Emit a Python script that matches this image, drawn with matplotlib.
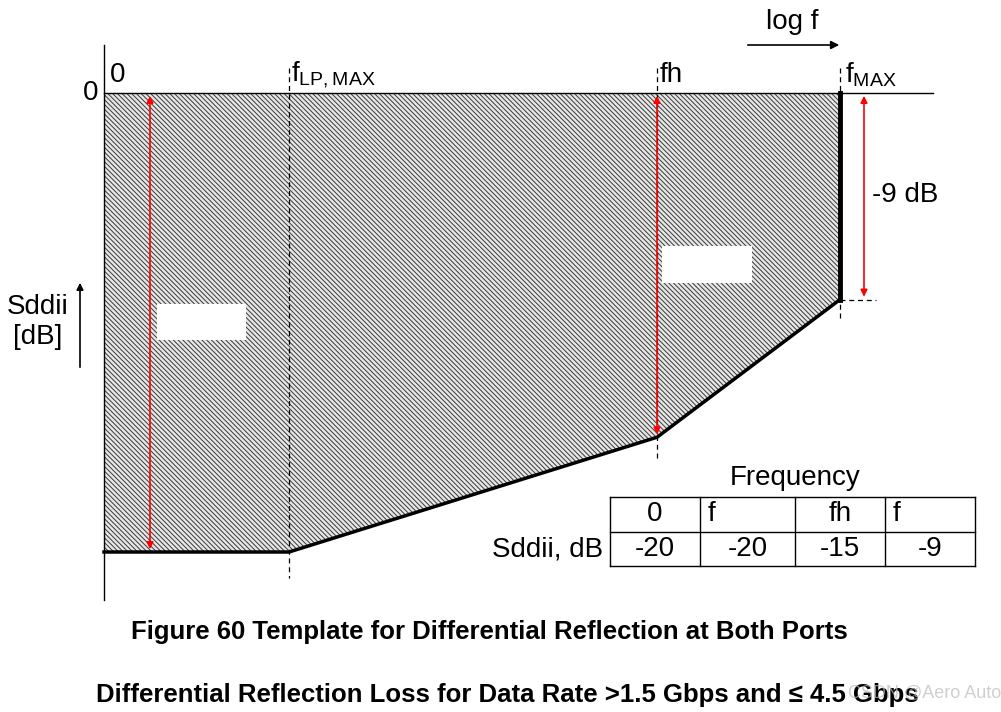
import matplotlib
matplotlib.use("Agg")
import matplotlib.pyplot as plt
from matplotlib.patches import Polygon, Rectangle

plt.rcParams['font.family'] = ['Liberation Sans', 'DejaVu Sans']
plt.rcParams['hatch.linewidth'] = 0.7

# Data
freq_labels = ["0", "f", "fh", "f"]
sddii_db = [-20, -20, -15, -9]
x_pix = [104, 289, 657, 840]          # log-f positions of the corner frequencies
Y0, PX_PER_DB = 93, 22.95

def ydb(v):
    return Y0 - v * PX_PER_DB

fig = plt.figure(figsize=(10.01, 7.12), dpi=100)
ax = fig.add_axes([0, 0, 1, 1])
ax.set_xlim(0, 1001); ax.set_ylim(712, 0); ax.axis('off')

ys = [ydb(v) for v in sddii_db]
poly = [(x_pix[0], Y0)] + list(zip(x_pix, ys)) + [(x_pix[-1], Y0)]
ax.add_patch(Polygon(poly, closed=True, facecolor='#e6e6e6', edgecolor='#3a3a3a',
                     hatch='\\\\\\\\\\\\\\', lw=0))
ax.plot(x_pix, ys, color='black', lw=2.5)
ax.plot([x_pix[-1]] * 2, [ys[-1], Y0], color='black', lw=3.5)

# axes
ax.plot([104, 104], [45, 600], color='black', lw=1)
ax.plot([104, 933], [Y0, Y0], color='black', lw=1)

# dashed verticals
for x, yb in [(289, 578), (657, 460), (840, 320)]:
    ax.plot([x, x], [68, yb], color='black', lw=0.9, ls=(0, (4, 3)))
ax.plot([840, 876], [ys[-1], ys[-1]], color='black', lw=0.9, ls=(0, (4, 3)))

# red arrows
for x, yb in [(150, ys[0]), (657, ys[2]), (864, ys[3])]:
    ax.annotate('', xy=(x, Y0), xytext=(x, yb),
                arrowprops=dict(arrowstyle='<|-|>', color='red', lw=1.2, mutation_scale=10))

# white boxes
ax.add_patch(Rectangle((157, 304), 89, 36, facecolor='white', edgecolor='none', zorder=3))
ax.add_patch(Rectangle((662, 246), 90, 37, facecolor='white', edgecolor='none', zorder=3))

fs = 20
ax.text(110, 75, "0", fontsize=fs, va='center')
ax.text(291, 75, r"f$_{\mathregular{LP,MAX}}$", fontsize=fs, va='center')
ax.text(660, 75, "fh", fontsize=fs, va='center')
ax.text(845, 75, r"f$_{\mathregular{MAX}}$", fontsize=fs, va='center')
ax.text(98, 93, "0", fontsize=fs, va='center', ha='right')
ax.text(792, 22, "log f", fontsize=fs, va='center', ha='center')
ax.annotate('', xy=(842, 45), xytext=(745, 45),
            arrowprops=dict(arrowstyle='-|>', color='black', lw=1.2, mutation_scale=12))
ax.text(38, 322, "Sddii\n[dB]", fontsize=fs, va='center', ha='center', linespacing=1.2)
ax.annotate('', xy=(80, 280), xytext=(80, 370),
            arrowprops=dict(arrowstyle='-|>', color='black', lw=1.2, mutation_scale=10))
ax.text(905, 195, "-9 dB", fontsize=fs, va='center', ha='center')

# table
ax.text(795, 478, "Frequency", fontsize=fs, va='center', ha='center')
xs = [610, 700, 795, 885, 975]
yt = [497, 532, 566]
for y in yt:
    ax.plot([xs[0], xs[-1]], [y, y], color='black', lw=1)
for x in xs:
    ax.plot([x, x], [yt[0], yt[-1]], color='black', lw=1)
for i, (lab, v) in enumerate(zip(freq_labels, sddii_db)):
    cx = (xs[i] + xs[i + 1]) / 2
    if lab == "f":
        ax.text(xs[i] + 8, 514, lab, fontsize=fs, va='center', ha='left')
    else:
        ax.text(cx, 514, lab, fontsize=fs, va='center', ha='center')
    ax.text(cx, 549, str(v), fontsize=fs, va='center', ha='center')
ax.text(603, 549, "Sddii, dB", fontsize=fs, va='center', ha='right')

ax.text(489, 632, "Figure 60 Template for Differential Reflection at Both Ports",
        fontsize=18.5, fontweight='bold', va='center', ha='center')
ax.text(507, 695, "Differential Reflection Loss for Data Rate >1.5 Gbps and ≤ 4.5 Gbps",
        fontsize=18.5, fontweight='bold', va='center', ha='center')
ax.text(925, 693, "CSDN @Aero Auto", fontsize=13, color='#bbbbbb', alpha=0.7,
        va='center', ha='center')

fig.savefig("out.png", dpi=100)
